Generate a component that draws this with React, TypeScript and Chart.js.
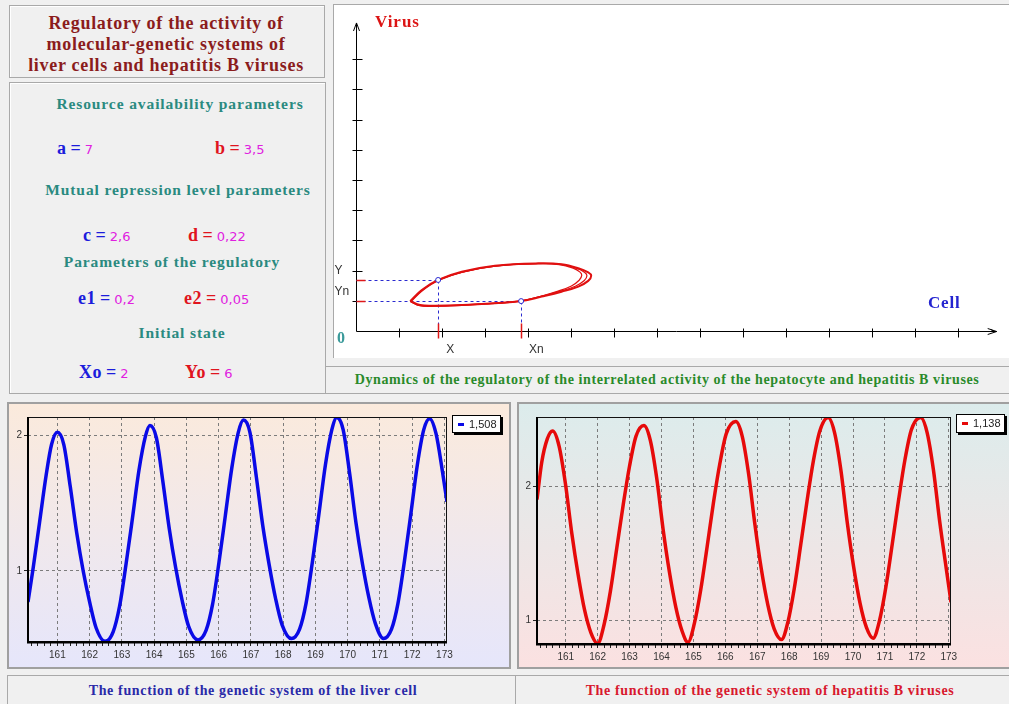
import React, { useEffect, useRef } from "react";
import { Chart, registerables } from "chart.js";

Chart.register(...registerables);

// ---------------- data: phase portrait (Cell vs Virus) ----------------
const phaseLoop1Cell = [1.26, 1.53, 1.91, 2.46, 3.23, 4.24, 4.78, 5.17, 5.40, 5.47, 5.40, 5.17, 4.78, 4.32, 3.84, 3.23, 2.46, 1.84, 1.49, 1.26];
const phaseLoop1Virus = [0.99, 1.36, 1.69, 1.96, 2.16, 2.24, 2.21, 2.08, 1.94, 1.83, 1.66, 1.47, 1.30, 1.14, 0.99, 0.92, 0.86, 0.84, 0.86, 0.99];
const phaseLoop2Cell = [1.27, 1.54, 1.92, 2.47, 3.23, 4.23, 4.76, 5.12, 5.32, 5.37, 5.31, 5.10, 4.74, 4.31, 3.84, 3.23, 2.46, 1.83, 1.48, 1.27];
const phaseLoop2Virus = [0.98, 1.35, 1.69, 1.95, 2.15, 2.23, 2.21, 2.08, 1.94, 1.83, 1.67, 1.48, 1.31, 1.15, 0.99, 0.91, 0.85, 0.82, 0.84, 0.98];
const phaseLoop3Cell = [1.28, 1.55, 1.93, 2.48, 3.24, 4.22, 4.73, 5.05, 5.21, 5.25, 5.19, 5.01, 4.70, 4.30, 3.84, 3.22, 2.45, 1.82, 1.47, 1.28];
const phaseLoop3Virus = [0.97, 1.34, 1.68, 1.95, 2.15, 2.23, 2.20, 2.08, 1.95, 1.84, 1.68, 1.49, 1.32, 1.15, 1.00, 0.92, 0.86, 0.83, 0.85, 0.97];

const markerCell = [1.91, 3.84];
const markerVirus = [1.69, 0.99];
const markerCellLabels = ["X", "Xn"];
const markerVirusLabels = ["Y", "Yn"];

const phaseCellTicks = [1, 2, 3, 4, 5, 6, 7, 8, 9, 10, 11, 12, 13, 14];
const phaseVirusTicks = [1, 2, 3, 4, 5, 6, 7, 8, 9];
const phaseCellAxisEnd = 14.9;
const phaseVirusAxisEnd = 10.2;

// ---------------- data: liver cell function ----------------
const cellTimes = [
  160.09, 160.25, 160.45, 160.65, 160.82, 161.00, 161.20, 161.40, 161.60, 161.80, 162.00, 162.20, 162.48,
  162.73, 162.93, 163.13, 163.33, 163.53, 163.73, 163.87, 164.07, 164.27, 164.47, 164.67, 164.87, 165.07, 165.36,
  165.61, 165.81, 166.01, 166.21, 166.41, 166.61, 166.77, 166.97, 167.17, 167.37, 167.57, 167.77, 167.97, 168.26,
  168.51, 168.71, 168.91, 169.11, 169.31, 169.51, 169.66, 169.86, 170.06, 170.26, 170.46, 170.66, 170.86, 171.11,
  171.36, 171.56, 171.76, 171.96, 172.16, 172.36, 172.54, 172.74, 172.94, 173.08,
];
const cellValues = [
  0.77, 1.02, 1.36, 1.70, 1.93, 2.02, 1.93, 1.62, 1.28, 1.00, 0.77, 0.58, 0.48,
  0.55, 0.74, 1.05, 1.39, 1.74, 1.99, 2.07, 1.98, 1.66, 1.31, 1.02, 0.78, 0.59, 0.49,
  0.56, 0.75, 1.06, 1.41, 1.76, 2.02, 2.11, 2.02, 1.69, 1.33, 1.04, 0.79, 0.60, 0.50,
  0.57, 0.76, 1.07, 1.42, 1.78, 2.04, 2.13, 2.04, 1.72, 1.35, 1.05, 0.80, 0.61, 0.50,
  0.57, 0.76, 1.07, 1.42, 1.78, 2.04, 2.12, 2.01, 1.73, 1.508,
];
const cellYTicks = [1, 2];
const cellXTickLabels = ["161", "162", "163", "164", "165", "166", "167", "168", "169", "170", "171", "172", "173"];

// ---------------- data: hepatitis B virus function ----------------
const virusTimes = [
  160.10, 160.25, 160.42, 160.59, 160.79, 160.99, 161.19, 161.39, 161.59, 161.79, 162.00,
  162.20, 162.40, 162.60, 162.80, 163.00, 163.20, 163.45, 163.65, 163.85, 164.05, 164.25, 164.45, 164.65, 164.83,
  165.03, 165.23, 165.43, 165.63, 165.83, 166.03, 166.33, 166.53, 166.73, 166.93, 167.13, 167.33, 167.53, 167.76,
  167.96, 168.16, 168.36, 168.56, 168.76, 168.96, 169.22, 169.42, 169.62, 169.82, 170.02, 170.22, 170.42, 170.63,
  170.83, 171.03, 171.23, 171.43, 171.63, 171.83, 172.12, 172.32, 172.52, 172.72, 172.92, 173.07,
];
const virusValues = [
  1.90, 2.18, 2.35, 2.41, 2.30, 2.02, 1.65, 1.34, 1.08, 0.91, 0.83,
  0.97, 1.22, 1.54, 1.86, 2.15, 2.37, 2.45, 2.34, 2.06, 1.68, 1.36, 1.10, 0.92, 0.84,
  0.98, 1.23, 1.55, 1.88, 2.17, 2.39, 2.48, 2.37, 2.09, 1.71, 1.38, 1.12, 0.94, 0.86,
  0.99, 1.24, 1.56, 1.89, 2.19, 2.41, 2.51, 2.40, 2.12, 1.73, 1.40, 1.13, 0.95, 0.87,
  1.00, 1.25, 1.57, 1.90, 2.20, 2.42, 2.51, 2.40, 2.12, 1.73, 1.39, 1.138,
];
const virusYTicks = [1, 2];

// ---------------- text ----------------
const titleLines = ["Regulatory of the activity of", "molecular-genetic systems of", "liver cells and hepatitis B viruses"];
const sectionHeaders = ["Resource availability parameters", "Mutual repression level parameters", "Parameters of the regulatory", "Initial state"];
const paramLeftNames = ["a", "c", "e1", "Xo"];
const paramLeftValues = ["7", "2,6", "0,2", "2"];
const paramRightNames = ["b", "d", "e2", "Yo"];
const paramRightValues = ["3,5", "0,22", "0,05", "6"];

const SERIF = "'Liberation Serif', 'Times New Roman', serif";
const SANS = "'Liberation Sans', Arial, sans-serif";
const TAHOMA = "'DejaVu Sans', 'Liberation Sans', sans-serif";

const isInt = (v: number) => Math.abs(v - Math.round(v)) < 1e-6;

function minorTicks(from: number, to: number): number[] {
  const out: number[] = [];
  for (let k = Math.ceil(from * 5 - 1e-6); k <= Math.floor(to * 5 + 1e-6); k++) out.push(k / 5);
  return out;
}

const phasePlugin = {
  id: "phaseAxes",
  beforeDatasetsDraw(chart: any) {
    const { ctx, scales } = chart;
    const xs = scales.x, ys = scales.y;
    const x0 = Math.round(xs.getPixelForValue(0)) + 0.5;
    const y0 = Math.round(ys.getPixelForValue(0)) + 0.5;
    const xe = xs.getPixelForValue(phaseCellAxisEnd);
    const ye = ys.getPixelForValue(phaseVirusAxisEnd);
    ctx.save();
    ctx.strokeStyle = "#000";
    ctx.lineWidth = 1;
    ctx.beginPath();
    ctx.moveTo(x0, y0); ctx.lineTo(xe, y0);
    ctx.moveTo(x0, y0); ctx.lineTo(x0, ye);
    phaseCellTicks.forEach((v) => {
      const p = Math.round(xs.getPixelForValue(v)) + 0.5;
      ctx.moveTo(p, y0 - 3); ctx.lineTo(p, y0 + 6);
    });
    phaseVirusTicks.forEach((v) => {
      const p = Math.round(ys.getPixelForValue(v)) + 0.5;
      ctx.moveTo(x0 - 4, p); ctx.lineTo(x0 + 6, p);
    });
    // arrows
    ctx.moveTo(x0 - 3, ye + 8); ctx.lineTo(x0, ye); ctx.lineTo(x0 + 3, ye + 8);
    ctx.moveTo(xe - 9, y0 - 3); ctx.lineTo(xe, y0); ctx.lineTo(xe - 9, y0 + 3);
    ctx.moveTo(xe - 6, y0 - 2); ctx.lineTo(xe - 2, y0);
    ctx.stroke();

    // dashed marker lines
    ctx.strokeStyle = "#2a2ad0";
    ctx.setLineDash([3, 3]);
    markerCell.forEach((mx, i) => {
      const px = Math.round(xs.getPixelForValue(mx)) + 0.5;
      const py = Math.round(ys.getPixelForValue(markerVirus[i])) + 0.5;
      ctx.beginPath();
      ctx.moveTo(x0, py); ctx.lineTo(px, py);
      ctx.moveTo(px, py); ctx.lineTo(px, y0);
      ctx.stroke();
    });
    ctx.setLineDash([]);
    // red axis marks
    ctx.strokeStyle = "#e01818";
    ctx.lineWidth = 1.5;
    markerCell.forEach((mx, i) => {
      const px = Math.round(xs.getPixelForValue(mx)) + 0.5;
      const py = Math.round(ys.getPixelForValue(markerVirus[i])) + 0.5;
      ctx.beginPath();
      ctx.moveTo(px, y0 - 8); ctx.lineTo(px, y0 + 7);
      ctx.moveTo(x0, py); ctx.lineTo(x0 + 9, py);
      ctx.stroke();
    });
    // labels
    ctx.fillStyle = "#333";
    ctx.font = `12px ${SANS}`;
    ctx.textBaseline = "middle";
    ctx.textAlign = "left";
    markerCell.forEach((mx, i) => {
      const px = xs.getPixelForValue(mx);
      const py = ys.getPixelForValue(markerVirus[i]);
      ctx.fillText(markerCellLabels[i], px + 8, y0 + 18);
      ctx.fillText(markerVirusLabels[i], x0 - 22, py - 9);
    });
    ctx.restore();
  },
  afterDatasetsDraw(chart: any) {
    const { ctx, scales } = chart;
    ctx.save();
    ctx.strokeStyle = "#2a2ad0";
    ctx.fillStyle = "#fff";
    ctx.lineWidth = 1;
    markerCell.forEach((mx, i) => {
      const px = scales.x.getPixelForValue(mx);
      const py = scales.y.getPixelForValue(markerVirus[i]);
      ctx.beginPath();
      ctx.arc(px, py, 2.5, 0, Math.PI * 2);
      ctx.fill();
      ctx.stroke();
    });
    ctx.restore();
  },
};

const framePlugin = {
  id: "plotFrame",
  afterDatasetsDraw(chart: any) {
    const { ctx, chartArea: a } = chart;
    ctx.save();
    ctx.strokeStyle = "#111";
    ctx.lineWidth = 1;
    ctx.strokeRect(a.left + 0.5, a.top + 0.5, a.right - a.left - 1, a.bottom - a.top);
    ctx.fillStyle = "#000";
    ctx.fillRect(a.left - 1, a.top, 2, a.bottom - a.top + 1);
    ctx.fillRect(a.left - 1, a.bottom - 1, a.right - a.left + 1, 2.5);
    ctx.restore();
  },
};

function seriesConfig(times: number[], values: number[], color: string, yTicks: number[], yMin: number, yMax: number, yAxisW: number, xAxisH: number, padTop: number, padRight: number) {
  const xMin = times[0];
  const xMax = times[times.length - 1];
  return {
    type: "scatter" as const,
    data: {
      datasets: [
        {
          data: times.map((t, i) => ({ x: t, y: values[i] })),
          showLine: true,
          borderColor: color,
          borderWidth: 3.5,
          pointRadius: 0,
          cubicInterpolationMode: "monotone" as const,
          fill: false,
        },
      ],
    },
    options: {
      responsive: false,
      animation: false as const,
      maintainAspectRatio: false,
      layout: { padding: { top: padTop, right: padRight, left: 0, bottom: 0 } },
      plugins: { legend: { display: false }, tooltip: { enabled: false } },
      scales: {
        x: {
          type: "linear" as const,
          min: xMin,
          max: xMax,
          afterBuildTicks: (s: any) => {
            s.ticks = minorTicks(xMin, xMax).map((v) => ({ value: v }));
          },
          afterFit: (s: any) => {
            s.height = xAxisH;
          },
          border: { display: false, dash: [3, 3] },
          grid: {
            color: (c: any) => (c.tick && isInt(c.tick.value) ? "#7c7c7c" : "rgba(0,0,0,0)"),
            borderDash: [3, 3],
            tickColor: "#222",
            tickLength: 4,
            tickWidth: 1,
            lineWidth: 1,
            tickBorderDash: [],
          },
          ticks: {
            autoSkip: false,
            maxRotation: 0,
            minRotation: 0,
            padding: 3,
            color: "#333",
            font: { family: SANS, size: 10 },
            callback: (v: any) => {
              if (!isInt(v)) return "";
              const lbl = String(Math.round(v));
              return cellXTickLabels.includes(lbl) ? lbl : "";
            },
          },
        },
        y: {
          type: "linear" as const,
          min: yMin,
          max: yMax,
          afterBuildTicks: (s: any) => {
            s.ticks = yTicks.map((v) => ({ value: v }));
          },
          afterFit: (s: any) => {
            s.width = yAxisW;
          },
          border: { display: false, dash: [3, 3] },
          grid: { color: "#7c7c7c", borderDash: [3, 3], tickColor: "#222", tickLength: 4, tickWidth: 1, lineWidth: 1, tickBorderDash: [] },
          ticks: { padding: 2, color: "#333", font: { family: SANS, size: 10 }, callback: (v: any) => String(v) },
        },
      },
    },
    plugins: [framePlugin],
  };
}

const abs = (x: number, y: number, extra: React.CSSProperties = {}): React.CSSProperties => ({
  position: "absolute",
  left: x,
  top: y,
  whiteSpace: "nowrap",
  lineHeight: 1,
  ...extra,
});

function Centered({ x, y, children, style }: { x: number; y: number; children: React.ReactNode; style?: React.CSSProperties }) {
  return <div style={abs(x, y, { transform: "translate(-50%, -50%)", ...style })}>{children}</div>;
}

function Param({ x, y, name, value, color }: { x: number; y: number; name: string; value: string; color: string }) {
  return (
    <div style={abs(x, y, { transform: "translateY(-50%)", display: "flex", alignItems: "baseline" })}>
      <span style={{ fontFamily: SERIF, fontWeight: "bold", fontSize: 18, color, letterSpacing: 0.5 }}>{name}</span>
      <span style={{ fontFamily: SERIF, fontWeight: "bold", fontSize: 18, color, margin: "0 4px" }}>=</span>
      <span style={{ fontFamily: TAHOMA, fontSize: 13, color: "#e020e0" }}>{value}</span>
    </div>
  );
}

function LegendBox({ x, y, w, h, color, value }: { x: number; y: number; w: number; h: number; color: string; value: number }) {
  return (
    <div
      style={abs(x, y, {
        width: w,
        height: h,
        background: "#fff",
        border: "1px solid #000",
        boxShadow: "2px 2px 0 #000",
        boxSizing: "border-box",
        display: "flex",
        alignItems: "center",
      })}
    >
      <div style={{ width: 6, height: 3, background: color, marginLeft: 5, marginRight: 5 }} />
      <span style={{ fontFamily: SANS, fontSize: 11, color: "#222" }}>{value.toFixed(3).replace(".", ",")}</span>
    </div>
  );
}

export default function App() {
  const topRef = useRef<HTMLCanvasElement>(null);
  const leftRef = useRef<HTMLCanvasElement>(null);
  const rightRef = useRef<HTMLCanvasElement>(null);

  useEffect(() => {
    const charts: Chart[] = [];
    if (topRef.current) {
      const loops = [
        [phaseLoop1Cell, phaseLoop1Virus, 2],
        [phaseLoop2Cell, phaseLoop2Virus, 1.2],
        [phaseLoop3Cell, phaseLoop3Virus, 1.2],
      ] as [number[], number[], number][];
      charts.push(
        new Chart(topRef.current, {
          type: "scatter",
          data: {
            datasets: loops.map(([cx, vy, w]) => ({
              data: cx.map((x, i) => ({ x, y: vy[i] })),
              showLine: true,
              borderColor: "#e01010",
              borderWidth: w,
              pointRadius: 0,
              tension: 0.4,
              fill: false,
            })),
          },
          options: {
            responsive: false,
            animation: false,
            maintainAspectRatio: false,
            layout: { padding: { left: 23, right: 8, top: 25, bottom: 30 } },
            plugins: { legend: { display: false }, tooltip: { enabled: false } },
            scales: {
              x: { type: "linear", min: 0, max: 15, display: false },
              y: { type: "linear", min: 0, max: 10, display: false },
            },
          },
          plugins: [phasePlugin],
        } as any)
      );
    }
    if (leftRef.current) {
      charts.push(new Chart(leftRef.current, seriesConfig(cellTimes, cellValues, "#0a0ae6", cellYTicks, 0.475, 2.133, 18, 25, 12, 61) as any));
    }
    if (rightRef.current) {
      charts.push(new Chart(rightRef.current, seriesConfig(virusTimes, virusValues, "#e60a0a", virusYTicks, 0.827, 2.514, 15, 23, 12, 58) as any));
    }
    return () => charts.forEach((c) => c.destroy());
  }, []);

  const panelBorder = "1px solid #a9a9a9";

  return (
    <div style={{ position: "absolute", left: 0, top: 0, width: 1009, height: 704, background: "#f0f0f0", overflow: "hidden" }}>
      {/* title box */}
      <div style={abs(9, 5, { width: 316, height: 73, border: panelBorder, boxSizing: "border-box", boxShadow: "inset 1px 1px 0 #fff" })} />
      {titleLines.map((t, i) => (
        <Centered key={t} x={166} y={23 + i * 21} style={{ fontFamily: SERIF, fontWeight: "bold", fontSize: 18, color: "#8b1c1c", letterSpacing: 0.7 }}>
          {t}
        </Centered>
      ))}

      {/* parameter panel */}
      <div style={abs(9, 82, { width: 317, height: 312, border: panelBorder, boxSizing: "border-box", boxShadow: "inset 1px 1px 0 #fff" })} />
      {sectionHeaders.map((h, i) => (
        <Centered
          key={h}
          x={[180, 178, 172, 182][i]}
          y={[104, 190, 262, 333][i]}
          style={{ fontFamily: SERIF, fontWeight: "bold", fontSize: 15.5, color: "#2a8a80", letterSpacing: 0.9 }}
        >
          {h}
        </Centered>
      ))}
      {paramLeftNames.map((n, i) => (
        <Param key={n} x={[57, 83, 78, 79][i]} y={[148, 235, 298, 372][i]} name={n} value={paramLeftValues[i]} color="#1c1cdc" />
      ))}
      {paramRightNames.map((n, i) => (
        <Param key={n} x={[215, 188, 184, 185][i]} y={[148, 235, 298, 372][i]} name={n} value={paramRightValues[i]} color="#e0141e" />
      ))}

      {/* phase portrait panel */}
      <div style={abs(333, 4, { width: 676, height: 354, background: "#fff", borderLeft: panelBorder, borderTop: panelBorder, boxSizing: "border-box" })} />
      <canvas ref={topRef} width={676} height={357} style={abs(333, 4, { width: 676, height: 357 })} />
      <div style={abs(375, 21, { transform: "translateY(-50%)", fontFamily: SERIF, fontWeight: "bold", fontSize: 17, color: "#dc1414", letterSpacing: 1 })}>Virus</div>
      <div style={abs(928, 302, { transform: "translateY(-50%)", fontFamily: SERIF, fontWeight: "bold", fontSize: 17, color: "#2424d0", letterSpacing: 0.8 })}>Cell</div>
      <div style={abs(337, 338, { transform: "translateY(-50%)", fontFamily: SERIF, fontWeight: "bold", fontSize: 16, color: "#3a9a9a" })}>0</div>

      {/* subtitle bar */}
      <div style={abs(326, 366, { width: 683, height: 28, borderTop: panelBorder, borderBottom: panelBorder, boxSizing: "border-box" })} />
      <Centered x={667} y={380} style={{ fontFamily: SERIF, fontWeight: "bold", fontSize: 14, color: "#2a8a2a", letterSpacing: 0.6 }}>
        Dynamics of the regulatory of the interrelated activity of the hepatocyte and hepatitis B viruses
      </Centered>

      {/* bottom left panel */}
      <div style={abs(7, 402, { width: 504, height: 267, border: "2px solid #a0a0a0", boxSizing: "border-box", background: "linear-gradient(#fbeadc, #e6e6fb)" })} />
      <canvas ref={leftRef} width={498} height={262} style={abs(10, 405, { width: 498, height: 262 })} />
      <LegendBox x={452} y={415} w={49} h={18} color="#0a0ae6" value={cellValues[cellValues.length - 1]} />

      {/* bottom right panel */}
      <div style={abs(517, 402, { width: 494, height: 267, border: "2px solid #a0a0a0", boxSizing: "border-box", background: "linear-gradient(#dcecec, #fbe1e1)" })} />
      <canvas ref={rightRef} width={487} height={262} style={abs(522, 405, { width: 487, height: 262 })} />
      <LegendBox x={956} y={414} w={49} h={19} color="#e60a0a" value={virusValues[virusValues.length - 1]} />

      {/* footers */}
      <div style={abs(7, 675, { width: 509, height: 30, borderTop: panelBorder, borderLeft: panelBorder, borderRight: panelBorder, boxSizing: "border-box" })} />
      <div style={abs(516, 675, { width: 493, height: 30, borderTop: panelBorder, boxSizing: "border-box" })} />
      <Centered x={253} y={691} style={{ fontFamily: SERIF, fontWeight: "bold", fontSize: 14, color: "#2a2aa8", letterSpacing: 0.65 }}>
        The function of the genetic system of the liver cell
      </Centered>
      <Centered x={770} y={691} style={{ fontFamily: SERIF, fontWeight: "bold", fontSize: 14, color: "#d8182e", letterSpacing: 0.65 }}>
        The function of the genetic system of hepatitis B viruses
      </Centered>
    </div>
  );
}
